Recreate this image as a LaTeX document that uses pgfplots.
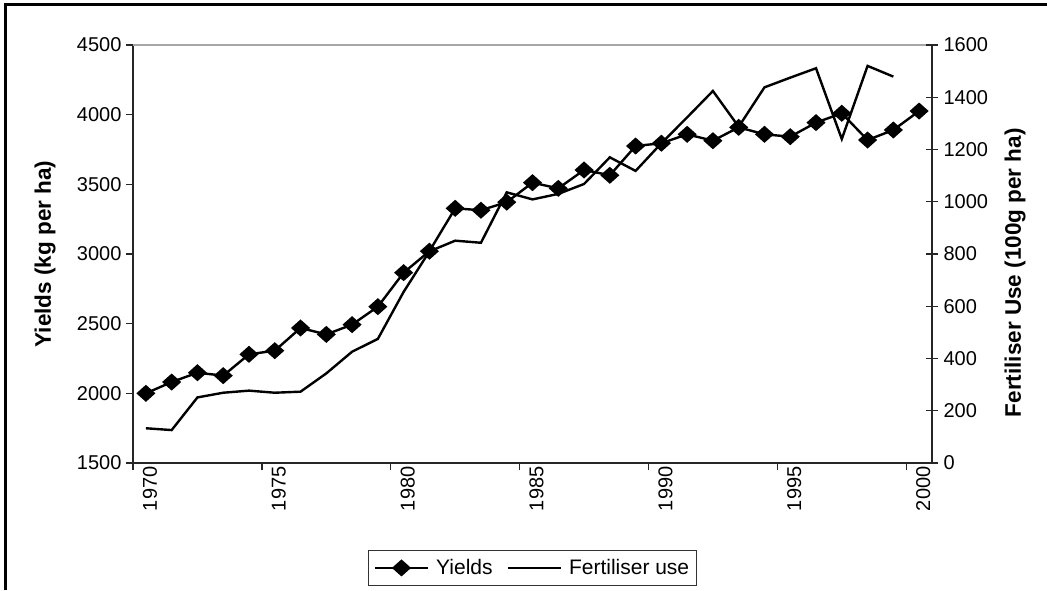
\documentclass[border=0pt]{standalone}
\usepackage{fontspec}
\setmainfont{Liberation Sans}
\usepackage{pgfplots}
\pgfplotsset{compat=1.18}
\usepackage{pgfplotstable}

\pgfplotstableread{
year yield fert
1970 2000 133
1971 2081 126
1972 2148 251
1973 2127 269
1974 2280 277
1975 2306 269
1976 2469 273
1977 2423 343
1978 2493 426
1979 2622 475
1980 2866 655
1981 3020 810
1982 3328 851
1983 3314 843
1984 3372 1036
1985 3512 1009
1986 3471 1030
1987 3603 1068
1988 3565 1170
1989 3775 1118
1990 3795 1224
1991 3859 1323
1992 3813 1424
1993 3909 1287
1994 3859 1438
1995 3842 1475
1996 3943 1511
1997 4010 1240
1998 3818 1520
1999 3890 1479
2000 4026 nan
}\datatable

\pgfplotsset{
  yieldstyle/.style={black, line width=2.4pt, mark=square*, mark size=4.9pt,
    mark options={solid, xscale=1.12, rotate=45}},
  fertstyle/.style={black, line width=2.4pt, no marks},
}

\begin{document}
\begin{tikzpicture}
\useasboundingbox (0pt,0pt) rectangle (1047pt,590pt);
\draw[line width=3pt] (5pt,0pt) -- (5pt,585pt) -- (1047pt,585pt);

\begin{axis}[
  at={(133pt,127pt)}, anchor=south west,
  scale only axis, width=799pt, height=418pt,
  xmin=1969.5, xmax=2000.5,
  ymin=1500, ymax=4500,
  axis x line*=bottom, axis y line*=left,
  axis line style={line width=1.5pt, black!85},
  tick style={line width=1.4pt, black!85},
  tick align=outside, major tick length=7pt,
  xtick={1969.5,1974.5,1979.5,1984.5,1989.5,1994.5,1999.5},
  xticklabels={},
  extra x ticks={1970,1975,1980,1985,1990,1995,2000},
  extra x tick labels={1970,1975,1980,1985,1990,1995,2000},
  extra x tick style={major tick length=0pt},
  xticklabel style={rotate=90, anchor=east, font=\fontsize{20}{20}\selectfont, yshift=-4pt},
  ytick={1500,2000,...,4500},
  yticklabel style={font=\fontsize{20}{20}\selectfont, xshift=-1pt},
  /pgf/number format/assume math mode=true,
  /pgf/number format/1000 sep={},
  scaled y ticks=false,
  ylabel={Yields (kg per ha)},
  ylabel style={font=\bfseries\fontsize{22.5}{22.5}\selectfont,
    at={(axis description cs:-0.11,0.5)}, anchor=center},
  clip=false,
]
\addplot[yieldstyle] table[x=year,y=yield]{\datatable};
\draw[gray!70, line width=1.6pt] (rel axis cs:0,1) -- (rel axis cs:1,1);
\end{axis}

\begin{axis}[
  at={(133pt,127pt)}, anchor=south west,
  scale only axis, width=799pt, height=418pt,
  xmin=1969.5, xmax=2000.5,
  ymin=0, ymax=1600,
  axis x line=none, axis y line*=right,
  axis line style={line width=1.5pt, black!85},
  tick style={line width=1.4pt, black!85},
  tick align=center, major tick length=12pt,
  ytick={0,200,...,1600},
  yticklabel style={font=\fontsize{20}{20}\selectfont, xshift=2pt},
  /pgf/number format/assume math mode=true,
  /pgf/number format/1000 sep={},
  scaled y ticks=false,
  ylabel={Fertiliser Use (100g per ha)},
  ylabel style={font=\bfseries\fontsize{22.5}{22.5}\selectfont,
    at={(axis description cs:1.104,0.455)}, anchor=center},
  legend columns=2,
  legend style={at={(axis description cs:0.5,-0.251)}, anchor=center,
    draw=black!80, line width=0.9pt, font=\fontsize{21}{21}\selectfont,
    /tikz/every odd column/.append style={column sep=5pt},
    /tikz/every even column/.append style={column sep=12pt},
    inner xsep=5pt, inner ysep=7pt},
  legend image code/.code={\draw[mark repeat=2,mark phase=2,#1] plot coordinates {(0pt,0pt) (26.5pt,0pt) (53pt,0pt)};},
]
\addlegendimage{yieldstyle}
\addlegendentry{Yields}
\addplot[fertstyle] table[x=year,y=fert]{\datatable};
\addlegendentry{Fertiliser use}
\end{axis}
\end{tikzpicture}
\end{document}
